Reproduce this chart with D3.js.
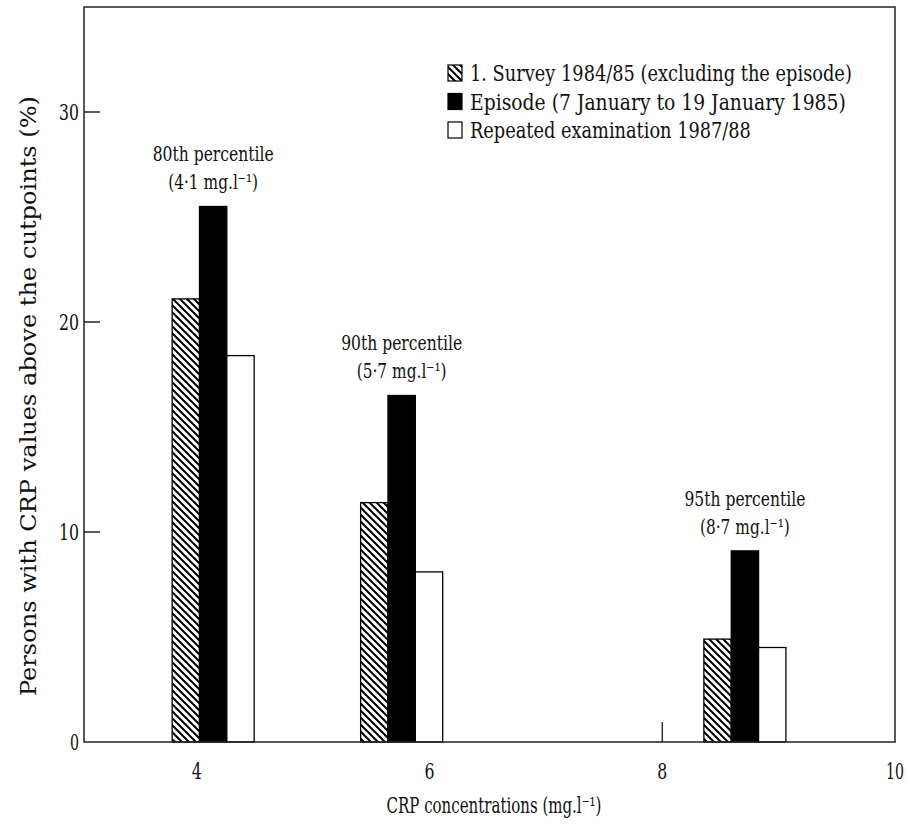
<!DOCTYPE html>
<html>
<head>
<meta charset="utf-8">
<script src="https://cdn.jsdelivr.net/npm/d3@7"></script>
<style>
  body { margin: 0; background: #fff; }
  svg text { font-family: "DejaVu Serif", "Liberation Serif", serif; fill: #111; }
</style>
</head>
<body>
<div id="chart"></div>
<script>
// values
const seriesNames = [
    "1. Survey 1984/85 (excluding the episode)",
    "Episode (7 January to 19 January 1985)",
    "Repeated examination 1987/88"
];
const percentileNames = ["80th percentile", "90th percentile", "95th percentile"];
const cutpoints = ["4·1", "5·7", "8·7"];
const groupX = [4.14, 5.76, 8.71];          // x position of each group (black bar centre)
const survey = [21.1, 11.4, 4.9];
const episode = [25.5, 16.5, 9.1];
const repeated = [18.4, 8.1, 4.5];
const xTicks = [4, 6, 8, 10];
const yTicks = [0, 10, 20, 30];

const W = 908, H = 828;
const barW = 0.235;   // in x units

const svg = d3.select("#chart").append("svg")
    .attr("width", W).attr("height", H);

const x = d3.scaleLinear().domain([3.03, 10]).range([84, 895]);
const y = d3.scaleLinear().domain([0, 35]).range([742, 7]);

// the original type is horizontally squeezed: scale each text around its anchor
function squeeze(sel, width) {
    sel.each(function (d, i) {
        const w = typeof width === "function" ? width(d, i) : width;
        const s = w / this.getComputedTextLength();
        const tx = +this.getAttribute("x"), ty = +this.getAttribute("y");
        this.setAttribute("transform",
            `translate(${tx},${ty}) scale(${s},1) translate(${-tx},${-ty})`);
    });
}

/* ---- hatch pattern ---- */
const defs = svg.append("defs");
const pat = defs.append("pattern")
    .attr("id", "hatch")
    .attr("width", 7).attr("height", 7)
    .attr("patternUnits", "userSpaceOnUse");
pat.append("rect").attr("width", 7).attr("height", 7).attr("fill", "#fff");
pat.append("path")
    .attr("d", "M-1,-1 L8,8 M-8,-1 L1,8 M6,-1 L15,8")
    .attr("stroke", "#000").attr("stroke-width", 2);

/* ---- bars ---- */
const series = [
    { values: survey,   fill: "url(#hatch)", offset: -1.5 },
    { values: episode,  fill: "#000",        offset: -0.5 },
    { values: repeated, fill: "#fff",        offset: 0.5 }
];
const barPx = x(barW) - x(0);

series.forEach(s => {
    svg.append("g").selectAll("rect")
        .data(s.values)
        .join("rect")
        .attr("x", (d, i) => x(groupX[i] + s.offset * barW))
        .attr("y", d => y(d))
        .attr("width", barPx)
        .attr("height", d => y(0) - y(d))
        .attr("fill", s.fill)
        .attr("stroke", "#000")
        .attr("stroke-width", 1.3);
});

// stray short mark sitting on the axis at 8
svg.append("line")
    .attr("x1", x(8)).attr("x2", x(8))
    .attr("y1", y(0)).attr("y2", y(0) - 20)
    .attr("stroke", "#333").attr("stroke-width", 1.5);

/* ---- frame and ticks ---- */
svg.append("rect")
    .attr("x", x(3.03)).attr("y", y(35))
    .attr("width", x(10) - x(3.03)).attr("height", y(0) - y(35))
    .attr("fill", "none").attr("stroke", "#222").attr("stroke-width", 1.5);

svg.append("g").selectAll("line")
    .data(yTicks.filter(d => d > 0))
    .join("line")
    .attr("x1", x(3.03)).attr("x2", x(3.03) + 16)
    .attr("y1", d => y(d)).attr("y2", d => y(d))
    .attr("stroke", "#222").attr("stroke-width", 1.5);

svg.append("g").selectAll("text")
    .data(yTicks)
    .join("text")
    .attr("x", 79).attr("y", d => y(d) + 8)
    .attr("text-anchor", "end")
    .attr("font-size", 22)
    .text(d => d)
    .call(squeeze, d => d === 0 ? 9 : 20);

svg.append("g").selectAll("text")
    .data(xTicks)
    .join("text")
    .attr("x", d => x(d)).attr("y", 779)
    .attr("text-anchor", "middle")
    .attr("font-size", 22)
    .text(d => d)
    .call(squeeze, d => d === 10 ? 18 : 10);

/* ---- axis titles ---- */
svg.append("text")
    .attr("x", 494).attr("y", 813)
    .attr("text-anchor", "middle")
    .attr("font-size", 22)
    .text("CRP concentrations (mg.l⁻¹)")
    .call(squeeze, 215);

svg.append("text")
    .attr("transform", "translate(36,396) rotate(-90)")
    .attr("text-anchor", "middle")
    .attr("font-size", 22)
    .attr("textLength", 600)
    .attr("lengthAdjust", "spacingAndGlyphs")
    .text("Persons with CRP values above the cutpoints (%)");

/* ---- percentile labels ---- */
percentileNames.forEach((name, i) => {
    const cx = x(groupX[i]);
    const top = y(episode[i]);
    svg.append("text")
        .attr("x", cx).attr("y", top - 45)
        .attr("text-anchor", "middle")
        .attr("font-size", 21)
        .text(name)
        .call(squeeze, 121);
    svg.append("text")
        .attr("x", cx).attr("y", top - 17)
        .attr("text-anchor", "middle")
        .attr("font-size", 21)
        .text(`(${cutpoints[i]} mg.l⁻¹)`)
        .call(squeeze, 90);
});

/* ---- legend ---- */
const legendFills = ["url(#hatch)", "#000", "#fff"];
const legendWidths = [382, 376, 281];
const leg = svg.append("g").selectAll("g")
    .data(seriesNames)
    .join("g")
    .attr("transform", (d, i) => `translate(448,${81 + i * 28.5})`);
leg.append("rect")
    .attr("x", 0).attr("y", -16)
    .attr("width", 14).attr("height", 16)
    .attr("fill", (d, i) => legendFills[i])
    .attr("stroke", "#000").attr("stroke-width", 1.2);
leg.append("text")
    .attr("x", 22).attr("y", 0)
    .attr("font-size", 22)
    .text(d => d)
    .call(squeeze, (d, i) => legendWidths[i]);
</script>
</body>
</html>
